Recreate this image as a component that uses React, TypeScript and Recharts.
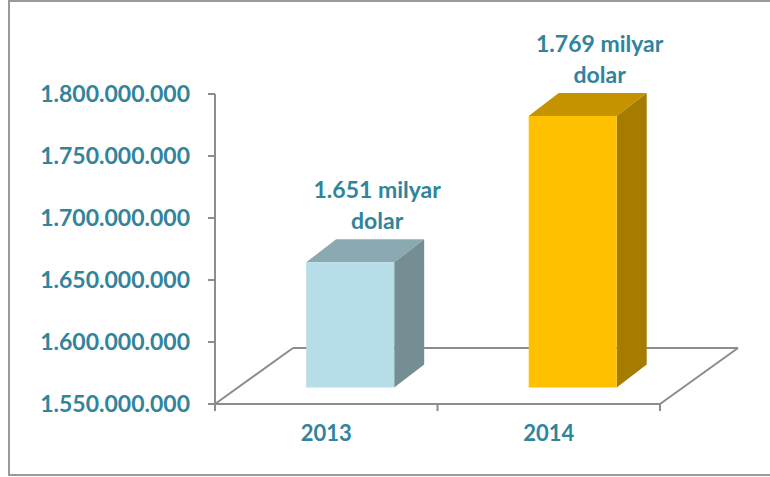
import { BarChart, Bar, XAxis, YAxis, Cell, LabelList, ReferenceArea } from "recharts";

const years = ["2013", "2014"];
const values = [1651000000, 1769000000];
const labels = ["1.651 milyar", "1.769 milyar"];
const yTicks = [1550000000, 1600000000, 1650000000, 1700000000, 1750000000, 1800000000];

const palette = [
  { front: "#B7DEE8", top: "#8BA9B0", side: "#758E94" },
  { front: "#FFC000", top: "#C69300", side: "#A67C00" },
];

const data = years.map((year, i) => ({ year, value: values[i], label: labels[i] }));

const TEAL = "#31849B";
const AXIS = "#8c8c8c";
const FONT = "Lato, 'Open Sans', sans-serif";

// offsets used to fake the 3D look
const SHIFT_X = 24;
const SHIFT_Y = -16.5;
const DEPTH_X = 30;
const DEPTH_Y = -23;
const FLOOR_X = 78;
const FLOOR_Y = -56;

const formatDots = (v: number) => String(v).replace(/\B(?=(\d{3})+(?!\d))/g, ".");

const Box3D = (props: any) => {
  const { x, y, width, height, index } = props;
  const c = palette[index];
  const fx = x + SHIFT_X;
  const fy = y + SHIFT_Y;
  const fb = fy + height;
  return (
    <g>
      <polygon
        points={`${fx},${fy} ${fx + DEPTH_X},${fy + DEPTH_Y} ${fx + width + DEPTH_X},${fy + DEPTH_Y} ${fx + width},${fy}`}
        fill={c.top}
      />
      <polygon
        points={`${fx + width},${fy} ${fx + width + DEPTH_X},${fy + DEPTH_Y} ${fx + width + DEPTH_X},${fb + DEPTH_Y} ${fx + width},${fb}`}
        fill={c.side}
      />
      <rect x={fx} y={fy} width={width} height={height} fill={c.front} />
    </g>
  );
};

const Floor = (props: any) => {
  const { x, y, width, height } = props;
  const b = y + height;
  return (
    <g stroke={AXIS} strokeWidth={2} fill="none">
      <line x1={x} y1={b} x2={x + FLOOR_X} y2={b + FLOOR_Y} />
      <line x1={x + FLOOR_X} y1={b + FLOOR_Y} x2={x + width + FLOOR_X} y2={b + FLOOR_Y} />
      <line x1={x + width} y1={b} x2={x + width + FLOOR_X} y2={b + FLOOR_Y} />
      <line x1={x} y1={b} x2={x} y2={b + 7} />
      <line x1={x + width / 2} y1={b} x2={x + width / 2} y2={b + 7} />
      <line x1={x + width} y1={b} x2={x + width} y2={b + 7} />
    </g>
  );
};

const ValueLabel = (props: any) => {
  const { x, y, width, value } = props;
  const cx = x + width / 2 + 51;
  return (
    <text
      x={cx}
      textAnchor="middle"
      fill={TEAL}
      fontFamily={FONT}
      fontWeight={700}
      fontSize={23}
    >
      <tspan x={cx} y={y - 80.5}>{value}</tspan>
      <tspan x={cx} y={y - 49.5}>dolar</tspan>
    </text>
  );
};

const YearTick = (props: any) => {
  const { x, payload } = props;
  return (
    <text x={x} y={441} textAnchor="middle" fill={TEAL} fontFamily={FONT} fontWeight={700} fontSize={22}>
      {payload.value}
    </text>
  );
};

export default function App() {
  return (
    <div style={{ position: "absolute", left: 0, top: 0, width: 770, height: 477, overflow: "hidden", background: "#fff" }}>
      <div
        style={{
          position: "absolute",
          left: 8,
          top: 0,
          width: 800,
          height: 476,
          border: "2px solid #9a9a9a",
          boxSizing: "border-box",
        }}
      />
      <div style={{ position: "absolute", left: 0, top: 0 }}>
        <BarChart
          width={770}
          height={477}
          data={data}
          margin={{ top: 94, right: 110, bottom: 0, left: 0 }}
          barCategoryGap="30.2%"
        >
          <ReferenceArea y1={1550000000} y2={1800000000} shape={Floor} ifOverflow="visible" />
          <XAxis
            dataKey="year"
            height={73}
            axisLine={{ stroke: AXIS, strokeWidth: 2 }}
            tickLine={false}
            tick={YearTick}
          />
          <YAxis
            width={215}
            domain={[1550000000, 1800000000]}
            ticks={yTicks}
            tickFormatter={formatDots}
            axisLine={{ stroke: AXIS, strokeWidth: 2 }}
            tickLine={{ stroke: AXIS, strokeWidth: 2 }}
            tickSize={7}
            tickMargin={18}
            tick={{ fill: TEAL, fontFamily: FONT, fontWeight: 700, fontSize: 23 }}
          />
          <Bar dataKey="value" shape={Box3D} isAnimationActive={false}>
            {data.map((d, i) => (
              <Cell key={d.year} fill={palette[i].front} />
            ))}
            <LabelList dataKey="label" content={ValueLabel} />
          </Bar>
        </BarChart>
      </div>
    </div>
  );
}
